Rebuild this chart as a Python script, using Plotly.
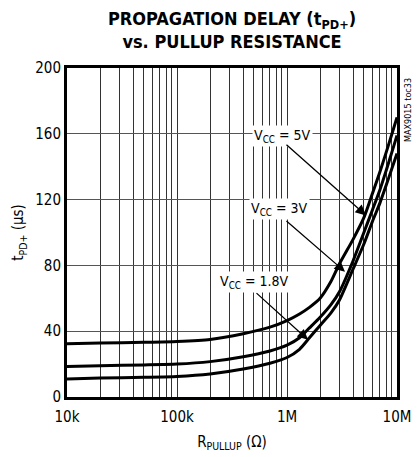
import plotly.graph_objects as go

R = [10e3, 20e3, 50e3, 100e3, 200e3, 400e3, 700e3, 1e6, 1.3e6, 1.6e6, 2e6,
     2.5e6, 3e6, 4e6, 5e6, 6e6, 7e6, 8e6, 9e6, 10e6]
t_5v = [32.3, 32.8, 33.3, 33.8, 35, 38.5, 42.5, 46.5, 50.5, 54.5, 60,
        70, 81, 96, 109, 124, 137, 149, 160, 170]
t_3v = [18.5, 19, 19.5, 20, 21.5, 24.5, 28, 31.5, 36, 42, 48.5,
        56, 64, 83, 100, 114, 126, 138, 149, 159]
t_18v = [11, 11.5, 12, 12.5, 14, 17, 20.5, 24, 29, 36, 43.5,
         51, 59, 78, 93, 107, 118, 129, 139, 148]

x_tickvals = [1e4, 1e5, 1e6, 1e7]
x_ticktext = ["10k", "100k", "1M", "10M"]
y_tickvals = [0, 40, 80, 120, 160, 200]

labels = ["V<sub>CC</sub> = 5V", "V<sub>CC</sub> = 3V", "V<sub>CC</sub> = 1.8V"]

FONT = "DejaVu Sans Condensed, Liberation Sans Narrow, Liberation Sans, sans-serif"

W, H = 417, 457
L, T, PW, PH = 67, 68, 330, 329

fig = go.Figure()
for ys in (t_5v, t_3v, t_18v):
    fig.add_trace(go.Scatter(x=R, y=ys, mode="lines",
                             line=dict(color="black", width=3, shape="spline", smoothing=0.6),
                             showlegend=False, hoverinfo="skip"))

# label text boxes (x in log10 units for log axis)
label_pos = [(5.955, 158.5), (5.936, 114), (5.709, 70)]
for (lx, ly), txt in zip(label_pos, labels):
    fig.add_annotation(x=lx, y=ly, xref="x", yref="y", text=txt, showarrow=False,
                       font=dict(family=FONT, size=14, color="black"),
                       bgcolor="white", borderpad=1)

# arrows: tip in data coords (log10 x), tail offset in px
arrows = [(6.718, 110.4, -81, -72), (6.527, 76.2, -60, -52), (6.191, 34.8, -53, -48)]
for (tx, ty, ax, ay) in arrows:
    fig.add_annotation(x=tx, y=ty, xref="x", yref="y", text="", showarrow=True,
                       ax=ax, ay=ay, arrowhead=2, arrowsize=1.6, arrowwidth=1.3,
                       arrowcolor="black")

fig.add_annotation(x=(408 - L) / PW, y=1 - (110 - T) / PH, xref="paper", yref="paper",
                   xanchor="center", yanchor="middle",
                   text="MAX9015 toc33", showarrow=False, textangle=-90,
                   font=dict(family=FONT, size=9, color="black"))

fig.add_annotation(x=0.5, y=1 + (T - 6) / PH, xref="paper", yref="paper", yanchor="top",
                   text="<b>PROPAGATION DELAY (t<sub>PD+</sub>)<br>vs. PULLUP RESISTANCE</b>",
                   showarrow=False, align="center",
                   font=dict(family=FONT, size=18, color="black"))

fig.update_layout(
    width=W, height=H,
    margin=dict(l=L, r=W - L - PW, t=T, b=H - T - PH, autoexpand=False),
    paper_bgcolor="white", plot_bgcolor="white",
    xaxis=dict(type="log", range=[4, 7], tickvals=x_tickvals, ticktext=x_ticktext,
               showgrid=True, gridcolor="#333", gridwidth=1,
               minor=dict(dtick="D1", showgrid=True, gridcolor="#333", gridwidth=1, ticks=""),
               showline=True, linecolor="black", linewidth=3, mirror=True,
               ticks="", ticklabelstandoff=4,
               tickfont=dict(family=FONT, size=15, color="black"),
               title=dict(text="R<sub>PULLUP</sub> (Ω)", standoff=12,
                          font=dict(family=FONT, size=15, color="black")),
               zeroline=False),
    yaxis=dict(range=[0, 200], tickvals=y_tickvals,
               showgrid=True, gridcolor="#555", gridwidth=1,
               showline=True, linecolor="black", linewidth=3, mirror=True,
               ticks="", tickfont=dict(family=FONT, size=15, color="black"),
               title=dict(text="t<sub>PD+</sub> (µs)", standoff=8,
                          font=dict(family=FONT, size=15, color="black")),
               zeroline=False),
)

fig.write_html("out.html", config={"displayModeBar": False},
               post_script="document.body.style.margin='0';document.body.style.overflow='hidden';")
